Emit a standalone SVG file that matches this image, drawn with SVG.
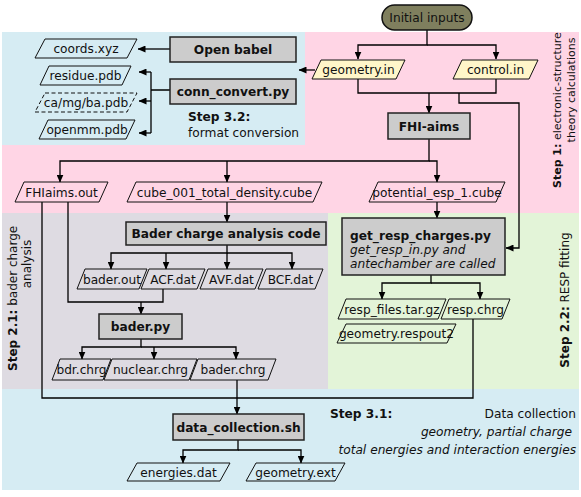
<svg xmlns="http://www.w3.org/2000/svg" width="581" height="497" viewBox="0 0 581 497">
<defs>
<marker id="ah" markerUnits="userSpaceOnUse" markerWidth="8" markerHeight="7" refX="7.5" refY="3.5" orient="auto">
<path d="M0,0 L8,3.5 L0,7 z" fill="#000"/>
</marker>
<style>
.t{font-family:"DejaVu Sans",Verdana,sans-serif;font-size:12.2px;fill:#111}
.b{font-weight:bold}
.i{font-style:italic}
.c{text-anchor:middle}
.e{text-anchor:end}
.box{fill:#cccccc;stroke:#222;stroke-width:1.5}
.par{fill:none;stroke:#111;stroke-width:1}
.yel{fill:#fff6c9}
.ln{fill:none;stroke:#000;stroke-width:1.3}
.ar{marker-end:url(#ah)}
</style>
</defs>
<g id="regions">
<rect x="2" y="32" width="303" height="113" fill="#d6ecf3"/>
<path d="M305,32 H579 V213 H2 V145 H305 Z" fill="#ffd5e5"/>
<rect x="2" y="213" width="326" height="176" fill="#dedbe2"/>
<rect x="328" y="213" width="251" height="176" fill="#e3f4d8"/>
<rect x="2" y="389" width="577" height="101" fill="#d6ecf3"/>
</g>
<g id="connectors">
<path class="ln ar" d="M427,30 V45 H358 V59"/>
<path class="ln ar" d="M427,45 H496 V59"/>
<path class="ln ar" d="M315,70 H299"/>
<path class="ln" d="M358,79 V93 H496 V79"/>
<path class="ln ar" d="M429,93 V113"/>
<path class="ln ar" d="M459,93 V103 H519 V248 H506"/>
<path class="ln ar" d="M429,139 V161 H60 V182"/>
<path class="ln ar" d="M227,161 V182"/>
<path class="ln ar" d="M429,161 H437 V182"/>
<path class="ln ar" d="M227,202 V222"/>
<path class="ln ar" d="M227,245 V253 H111 V269"/>
<path class="ln ar" d="M166,253 V269"/>
<path class="ln ar" d="M227,253 V269"/>
<path class="ln ar" d="M227,253 H292 V269"/>
<path class="ln" d="M68,202 V302 H163 V289"/>
<path class="ln ar" d="M141,302 V314"/>
<path class="ln ar" d="M141,339 V347 H82 V359"/>
<path class="ln ar" d="M154,347 V359"/>
<path class="ln ar" d="M141,347 H236 V359"/>
<path class="ln" d="M42,202 V398 H473 V319"/>
<path class="ln ar" d="M237,380 V414"/>
<path class="ln ar" d="M437,202 V218"/>
<path class="ln ar" d="M431,275 V283 H382 V299"/>
<path class="ln ar" d="M431,283 H480 V299"/>
<path class="ln ar" d="M238,440 V450 H183 V463"/>
<path class="ln ar" d="M238,450 H301 V463"/>
<path class="ln ar" d="M170,49 H138"/>
<path class="ln" d="M170,90 H151 M151,72 V133"/>
<path class="ln ar" d="M151,72 H139"/>
<path class="ln ar" d="M151,101 H139"/>
<path class="ln ar" d="M151,133 H139"/>
</g>
<g id="initial-inputs">
<rect x="382" y="5" width="90" height="25" rx="12.5" fill="#7f7f5e" stroke="#111" stroke-width="1.5"/>
<text class="t c" x="427" y="22">Initial inputs</text>
</g>
<g id="geometry-in">
<polygon class="par yel" points="321,60 405,60 396,79 312,79"/>
<text class="t c" x="358.5" y="74">geometry.in</text>
</g>
<g id="control-in">
<polygon class="par yel" points="462,60 538,60 529,79 453,79"/>
<text class="t c" x="495.5" y="74">control.in</text>
</g>
<g id="fhi-aims">
<rect class="box" x="388" y="113" width="82" height="26"/>
<text class="t b c" x="429" y="130.5">FHI-aims</text>
</g>
<g id="open-babel">
<rect class="box" x="170" y="37" width="126" height="25"/>
<text class="t b c" x="233" y="54">Open babel</text>
</g>
<g id="conn-convert">
<rect class="box" x="170" y="79" width="126" height="25"/>
<text class="t b c" x="233" y="96">conn_convert.py</text>
</g>
<g id="coords-xyz">
<polygon class="par" points="45,39 137,39 127,58 35,58"/>
<text class="t c" x="86" y="53">coords.xyz</text>
</g>
<g id="residue-pdb">
<polygon class="par" points="49,66 131,66 122,85 40,85"/>
<text class="t c" x="85.5" y="80">residue.pdb</text>
</g>
<g id="camgba-pdb">
<polygon class="par" points="45,93 137,93 127,112 35,112" stroke-dasharray="4,2.5"/>
<text class="t c" x="86" y="107">ca/mg/ba.pdb</text>
</g>
<g id="openmm-pdb">
<polygon class="par" points="48,120 135,120 126,139 39,139"/>
<text class="t c" x="87" y="134">openmm.pdb</text>
</g>
<g id="step32-label">
<text class="t b" x="188" y="121">Step 3.2:</text>
<text class="t" x="188" y="137">format conversion</text>
</g>
<g id="fhiaims-out">
<polygon class="par" points="24,182 108,182 99,202 15,202"/>
<text class="t c" x="61.5" y="196.5">FHIaims.out</text>
</g>
<g id="cube-density">
<polygon class="par" points="136,182 322,182 313,202 127,202"/>
<text class="t c" x="224.5" y="196.5">cube_001_total_density.cube</text>
</g>
<g id="potential-esp">
<polygon class="par" points="378,182 505,182 496,202 369,202"/>
<text class="t c" x="437" y="196.5">potential_esp_1.cube</text>
</g>
<g id="bader-code">
<rect class="box" x="126" y="222" width="200" height="23"/>
<text class="t b c" x="226" y="238">Bader charge analysis code</text>
</g>
<g id="bader-out">
<polygon class="par" points="85,269 147,269 139,289 77,289"/>
<text class="t c" x="112" y="283.5">bader.out</text>
</g>
<g id="acf-dat">
<polygon class="par" points="149,269 205,269 197,289 141,289"/>
<text class="t c" x="173" y="283.5">ACF.dat</text>
</g>
<g id="avf-dat">
<polygon class="par" points="208,269 263,269 255,289 200,289"/>
<text class="t c" x="231.5" y="283.5">AVF.dat</text>
</g>
<g id="bcf-dat">
<polygon class="par" points="266,269 323,269 315,289 258,289"/>
<text class="t c" x="290.5" y="283.5">BCF.dat</text>
</g>
<g id="bader-py">
<rect class="box" x="99" y="314" width="83" height="25"/>
<text class="t b c" x="140.5" y="331">bader.py</text>
</g>
<g id="bdr-chrg">
<polygon class="par" points="60,359 111,359 103,380 52,380"/>
<text class="t c" x="81.5" y="374">bdr.chrg</text>
</g>
<g id="nuclear-chrg">
<polygon class="par" points="112,359 197,359 189,380 104,380"/>
<text class="t c" x="150.5" y="374">nuclear.chrg</text>
</g>
<g id="bader-chrg">
<polygon class="par" points="198,359 276,359 268,380 190,380"/>
<text class="t c" x="233" y="374">bader.chrg</text>
</g>
<g id="get-resp">
<rect class="box" x="342" y="218" width="163" height="57"/>
<text class="t b" x="350" y="240">get_resp_charges.py</text>
<text class="t i" x="350" y="254">get_resp_in.py and</text>
<text class="t i" x="350" y="268">antechamber are called</text>
</g>
<g id="resp-files">
<polygon class="par" points="346,299 446,299 438,319 338,319"/>
<text class="t c" x="392" y="313.5">resp_files.tar.gz</text>
</g>
<g id="resp-chrg">
<polygon class="par" points="449,299 510,299 502,319 441,319"/>
<text class="t c" x="475.5" y="313.5">resp.chrg</text>
</g>
<g id="geometry-respout2">
<polygon class="par" points="346,324 456,324 447,343 337,343"/>
<text class="t c" x="396.5" y="338">geometry.respout2</text>
</g>
<g id="data-collection">
<rect class="box" x="173" y="414" width="131" height="26"/>
<text class="t b c" x="238.5" y="431.5">data_collection.sh</text>
</g>
<g id="energies-dat">
<polygon class="par" points="137,463 230,463 220,481 127,481"/>
<text class="t c" x="178.5" y="476.5">energies.dat</text>
</g>
<g id="geometry-ext">
<polygon class="par" points="256,463 345,463 335,481 246,481"/>
<text class="t c" x="295.5" y="476.5">geometry.ext</text>
</g>
<g id="step31-label">
<text class="t b" x="330" y="418">Step 3.1:</text>
<text class="t e" x="576" y="418">Data collection</text>
<text class="t i e" x="572" y="436">geometry, partial charge</text>
<text class="t i e" x="576" y="454">total energies and interaction energies</text>
</g>
<g id="step1-label">
<text class="t" style="font-size:11px" transform="translate(561,188) rotate(-90)"><tspan class="b">Step 1:</tspan> electronic-structure</text>
<text class="t c" style="font-size:11px" transform="translate(575,90) rotate(-90)">theory calculations</text>
</g>
<g id="step22-label">
<text class="t c" style="font-size:12px" transform="translate(569,300) rotate(-90)"><tspan class="b">Step 2.2:</tspan> RESP fitting</text>
</g>
<g id="step21-label">
<text class="t" style="font-size:12px" transform="translate(17,371) rotate(-90)"><tspan class="b">Step 2.1:</tspan> bader charge</text>
<text class="t c" style="font-size:12px" transform="translate(31,264) rotate(-90)">analysis</text>
</g>
</svg>
